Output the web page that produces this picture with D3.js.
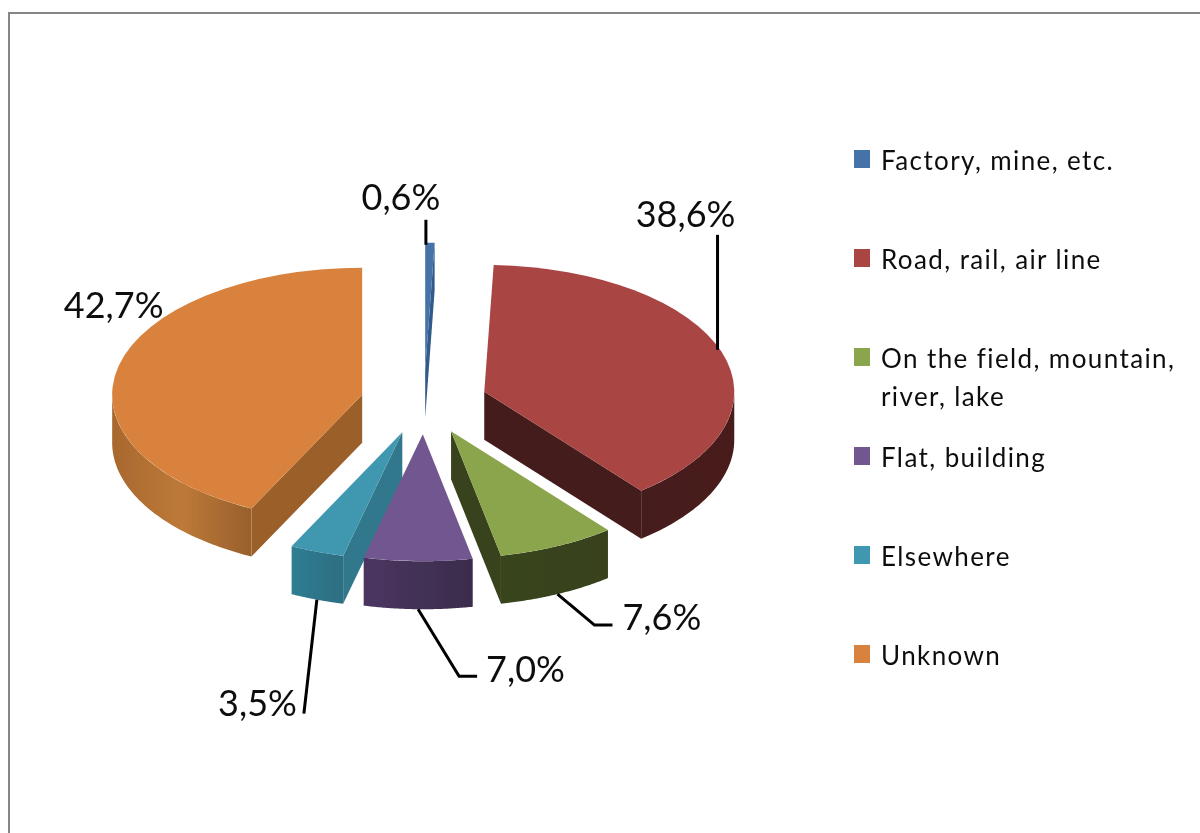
<!DOCTYPE html>
<html>
<head>
<meta charset="utf-8">
<script src="https://cdn.jsdelivr.net/npm/d3@7"></script>
<style>
    html, body { margin: 0; padding: 0; background: #fff; }
    svg { display: block; }
    text { font-family: Lato, "Open Sans", sans-serif; fill: #111; }
</style>
</head>
<body>
<div id="svg-container"></div>
<script>
const categories = ["Factory, mine, etc.", "Road, rail, air line", "On the field, mountain,|river, lake", "Flat, building", "Elsewhere", "Unknown"];
const values = [0.6, 38.6, 7.6, 7.0, 3.5, 42.7];
const valueLabels = ["0,6%", "38,6%", "7,6%", "7,0%", "3,5%", "42,7%"];
const topColors = ["#4472a8", "#a94443", "#8aa54c", "#71578f", "#4097b0", "#d8823c"];
const edgeColors = ["#325a8a", "#451a1a", "#37421b", "#42305a", "#33788c", "#9b5f2a"];
const wallStops = [
    ["#325a8a", "#325a8a"],
    ["#451a1a", "#4a1b1b"],
    ["#38451d", "#37411b"],
    ["#4a3660", "#3b2c4c"],
    ["#2f7d92", "#2f6e82"],
    ["#a8682e", "#bd7938", "#98602c"]
];

const w = 1200;
const h = 833;
const cx = 424;
const cy = 402;
const rx = 250;
const ry = 127;
const depth = 48;
const explode = 0.254;
const drawOrder = [0, 1, 5, 2, 4, 3];

// leader line points relative to the rim point of the slice, and where the label goes
const leaders = [
    { wall: false, pts: [[-4, 2], [-4, -23]], text: [-29, -33], anchor: "middle" },
    { wall: false, pts: [[-4, -2], [-4, -117]], text: [-36, -125], anchor: "middle" },
    { wall: true, pts: [[0, 0], [37, 31], [55, 31]], text: [65, 36], anchor: "start" },
    { wall: true, pts: [[0, 0], [41, 67], [59, 67]], text: [68, 73], anchor: "start" },
    { wall: true, pts: [[0, 0], [-13, 114]], text: [-20, 116], anchor: "end" },
    { wall: false, pts: [], text: [-5, -48], anchor: "middle" }
];

window.onload = function() {

    const svg = d3.select("#svg-container")
        .append("svg")
        .attr("width", w)
        .attr("height", h);

    // chart frame, runs off the right and bottom of the picture
    svg.append("path")
        .attr("d", `M9,${h}V13H${w}`)
        .attr("fill", "none")
        .attr("stroke", "#868686")
        .attr("stroke-width", 2);

    const slices = d3.pie().sort(null).value(d => d)(values);
    slices.forEach(s => {
        const mid = (s.startAngle + s.endAngle) / 2;
        s.ox = cx + explode * rx * Math.sin(mid);
        s.oy = cy - explode * ry * Math.cos(mid);
        s.mid = mid;
    });

    const rim = (s, a) => [s.ox + rx * Math.sin(a), s.oy - ry * Math.cos(a)];
    const line = d3.line();
    const arc = d3.arc().innerRadius(0).outerRadius(rx);

    const defs = svg.append("defs");
    wallStops.forEach((stops, i) => {
        const g = defs.append("linearGradient").attr("id", "wall" + i);
        stops.forEach((c, j) => {
            g.append("stop")
                .attr("offset", j / (stops.length - 1))
                .attr("stop-color", c);
        });
    });

    // the source picture is a soft upscale, so take the hard edges off
    defs.append("filter")
        .attr("id", "soft")
        .append("feGaussianBlur")
        .attr("stdDeviation", 0.45);

    const pie = svg.append("g").attr("filter", "url(#soft)");

    drawOrder.forEach(i => {
        const s = slices[i];
        const g = pie.append("g");

        // flat walls on the cut edges that face the viewer
        const cuts = [];
        if (Math.sin(s.startAngle) < 0) cuts.push(s.startAngle);
        if (Math.sin(s.endAngle) > 0) cuts.push(s.endAngle);
        cuts.forEach(a => {
            const p = rim(s, a);
            g.append("path")
                .attr("d", line([[s.ox, s.oy], p, [p[0], p[1] + depth], [s.ox, s.oy + depth]]) + "Z")
                .attr("fill", edgeColors[i]);
        });

        // curved outer wall, only the front half of the ellipse shows
        const a0 = Math.max(s.startAngle, Math.PI / 2);
        const a1 = Math.min(s.endAngle, Math.PI * 1.5);
        if (a1 > a0) {
            const upper = d3.range(0, 61).map(k => rim(s, a0 + (a1 - a0) * k / 60));
            const lower = upper.map(p => [p[0], p[1] + depth]).reverse();
            g.append("path")
                .attr("d", line(upper.concat(lower)) + "Z")
                .attr("fill", `url(#wall${i})`);
        }

        g.append("path")
            .attr("d", arc(s))
            .attr("transform", `translate(${s.ox},${s.oy}) scale(1,${ry / rx})`)
            .attr("fill", topColors[i]);
    });

    // data labels
    const labels = svg.append("g").attr("filter", "url(#soft)");
    slices.forEach((s, i) => {
        const l = leaders[i];
        const p = rim(s, s.mid);
        const base = [p[0], p[1] + (l.wall ? depth : 0)];
        if (l.pts.length) {
            labels.append("path")
                .attr("d", line(l.pts.map(q => [base[0] + q[0], base[1] + q[1]])))
                .attr("fill", "none")
                .attr("stroke", "#000")
                .attr("stroke-width", 3);
        }
        labels.append("text")
            .attr("x", base[0] + l.text[0])
            .attr("y", base[1] + l.text[1])
            .attr("text-anchor", l.anchor)
            .style("font-size", "36px")
            .text(valueLabels[i]);
    });

    // legend
    const legendY = d3.scaleLinear().domain([0, 5]).range([150, 645]);
    const legend = svg.selectAll(".legend-item")
        .data(categories)
        .enter()
        .append("g")
        .attr("class", "legend-item")
        .attr("filter", "url(#soft)")
        .attr("transform", (d, i) => `translate(854,${legendY(i)})`);

    legend.append("rect")
        .attr("width", 16)
        .attr("height", 18)
        .attr("fill", (d, i) => topColors[i]);

    legend.append("text")
        .attr("x", 27)
        .attr("y", 20)
        .style("font-size", "26px")
        .style("letter-spacing", "1.4px")
        .selectAll("tspan")
        .data(d => d.split("|"))
        .enter()
        .append("tspan")
        .attr("x", 27)
        .attr("dy", (d, i) => i ? 38 : 0)
        .text(d => d);
}
</script>
</body>
</html>
